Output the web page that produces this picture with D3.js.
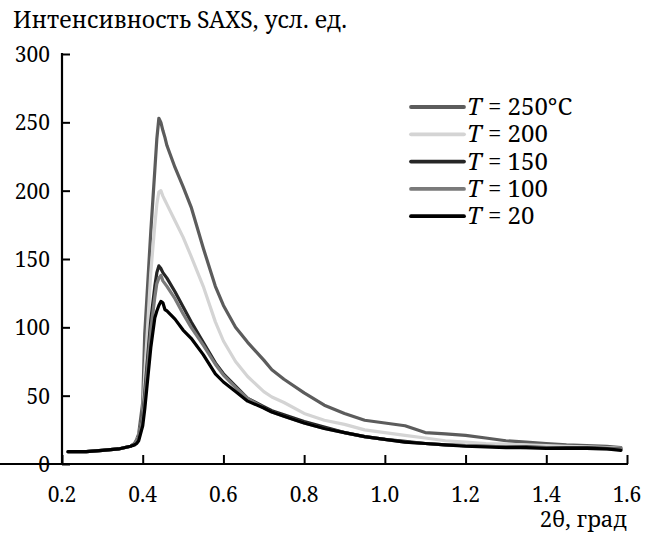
<!DOCTYPE html>
<html><head><meta charset="utf-8">
<script src="https://cdn.jsdelivr.net/npm/d3@7/dist/d3.min.js"></script>
<style>body{margin:0;background:#fff;}</style>
</head><body>
<svg id="c" width="658" height="535"></svg>
<script>
const xs    = [0.215,0.26,0.30,0.34,0.37,0.38,0.385,0.39,0.40,0.405,0.41,0.42,0.43,0.435,0.44,0.445,0.45,0.455,0.46,0.48,0.50,0.52,0.55,0.58,0.60,0.63,0.66,0.70,0.72,0.75,0.80,0.85,0.90,0.95,1.00,1.05,1.10,1.15,1.20,1.25,1.30,1.35,1.40,1.45,1.50,1.55,1.585];
const t250  = [9,9,10,11,13,15,18,22,45,95,120,170,215,238,253,250,244,239,233,217,203,188,158,130,116,100,89,76,69,62,52,43,37,32,30,28,23,22,21,19,17,16,15,14,13.5,13,12];
const t200  = [9,9,10,11,13,15,17,20,35,65,90,140,175,190,199,200,196,193,190,178,166,152,130,104,90,75,64,53,49,45,37,32,29,25,23,21,19,17,16,15,14.5,14,13.5,13,12.5,12,11.5];
const t150  = [9,9,10,11,13,15,17,19,35,52,70,105,130,140,145,143,140,138,136,126,115,104,89,74,66,57,48,42,39,36,31,27,23,20,18,16.5,15,14,13.5,13,12.5,12.5,12,12,12,11.5,11];
const t100  = [9,9,10,11,13,15,17,19,33,48,65,98,122,132,136,138,134,132,130,121,110,100,87,73,65,56,48,41,38,35,30,26,23,20,18,16,15,14,13.5,13,12.5,12,12,11.5,11.5,11,11];
const t20   = [9,9,10,11,13,14,15,17,28,40,55,85,107,112,116,119,118,113,112,106,98,92,80,66,60,53,46,41,38,35,30,26,23,20,18,16,15,14,13,12.5,12,12,11.5,11.5,11.5,11,10];
const seriesTemps = ["250°C","200","150","100","20"];
const seriesColors = ["#5c5c5c","#d4d4d4","#262626","#7a7a7a","#000000"];
const seriesData = [t250,t200,t150,t100,t20];
const xTicks = [0.2,0.4,0.6,0.8,1.0,1.2,1.4,1.6];
const yTicks = [0,50,100,150,200,250,300];
const FONT = "Noto Serif";

const svg = d3.select("#c");
const x = d3.scaleLinear().domain([0.2,1.6]).range([62,627]);
const y = d3.scaleLinear().domain([0,300]).range([464,54]);

function label(px, py, size, anchor){
  return svg.append("text").attr("x",px).attr("y",py)
    .attr("font-family",FONT).attr("font-size",size).attr("fill","#000")
    .attr("text-anchor",anchor||"start");
}

const xa = svg.append("g").attr("transform","translate(0,464)")
  .call(d3.axisBottom(x).tickValues(xTicks).tickFormat("").tickSizeInner(-9).tickSizeOuter(0));
const ya = svg.append("g").attr("transform","translate(62,0)")
  .call(d3.axisLeft(y).tickValues(yTicks).tickFormat("").tickSizeInner(-8).tickSizeOuter(0));
[xa,ya].forEach(a=>{
  a.select(".domain").attr("stroke","#000").attr("stroke-width",2.2);
  a.selectAll(".tick line").attr("stroke","#000").attr("stroke-width",2);
  a.selectAll(".tick text").remove();
});
ya.select(".domain").attr("d","M0,464V53");
xa.select(".domain").attr("d","M-1,0H"+(x(1.6)+1));

const fx = d3.format(".1f");
xTicks.forEach(d=>label(x(d), 502, 21, "middle").text(fx(d)));
yTicks.forEach(d=>label(50, y(d)+8, 21, "end").text(d));

const line = d3.line().x((d,i)=>x(xs[i])).y(d=>y(d));
seriesData.forEach((s,k)=>{
  svg.append("path").datum(s).attr("d",line).attr("fill","none")
    .attr("stroke",seriesColors[k]).attr("stroke-width",3.2)
    .attr("stroke-linejoin","round").attr("stroke-linecap","round");
});

seriesTemps.forEach((n,k)=>{
  const ly = 107 + k*27.3;
  svg.append("line").attr("x1",411).attr("x2",464).attr("y1",ly).attr("y2",ly)
    .attr("stroke",seriesColors[k]).attr("stroke-width",3.8).attr("stroke-linecap","round");
  const t = label(467, ly+8, 24);
  t.append("tspan").attr("font-style","italic").text("T");
  t.append("tspan").text(" = "+n);
});

label(13, 28, 23).text("Интенсивность SAXS, усл. ед.");
label(627, 527, 22, "end").text("2θ, град");
</script>
</body></html>
